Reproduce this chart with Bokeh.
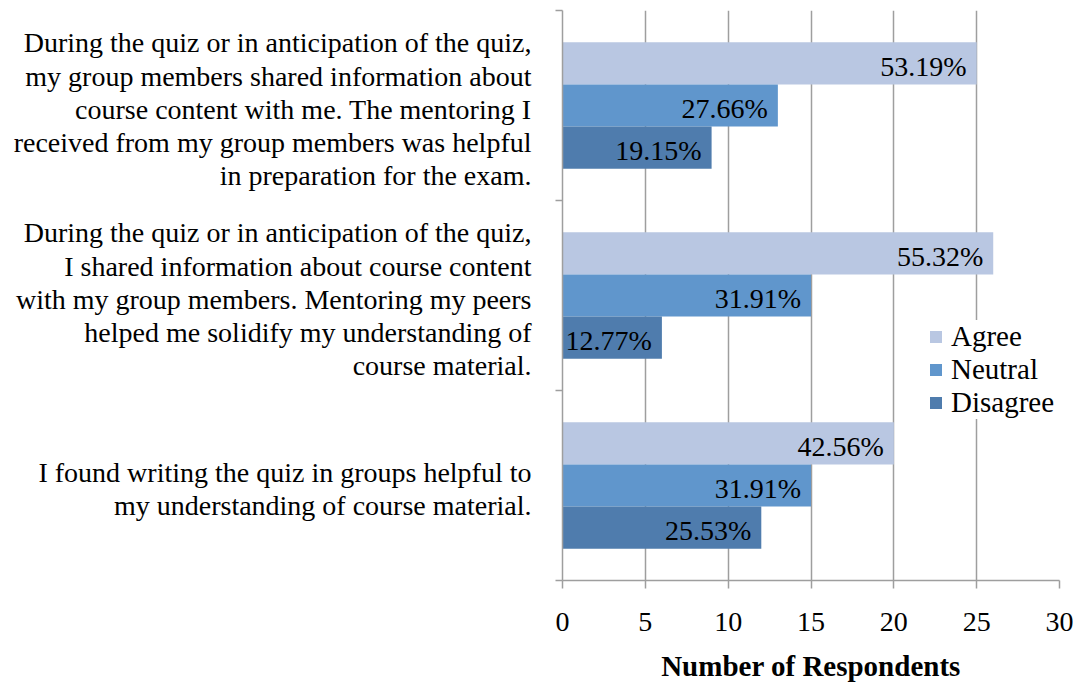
from bokeh.plotting import figure
from bokeh.models import Range1d, FixedTicker, Legend, LegendItem, ColumnDataSource
from bokeh.core.properties import value
from bokeh.embed import file_html
from bokeh.resources import INLINE

# ---- data ----
categories = [
    "During the quiz or in anticipation of the quiz,\nmy group members shared information about\ncourse content with me. The mentoring I\nreceived from my group members was helpful\nin preparation for the exam.",
    "During the quiz or in anticipation of the quiz,\nI shared information about course content\nwith my group members. Mentoring my peers\nhelped me solidify my understanding of\ncourse material.",
    "I found writing the quiz in groups helpful to\nmy understanding of course material.",
]
series_names = ["Agree", "Neutral", "Disagree"]
agree = [25, 26, 20]
neutral = [13, 15, 15]
disagree = [9, 6, 12]
agree_pct = ["53.19%", "55.32%", "42.56%"]
neutral_pct = ["27.66%", "31.91%", "31.91%"]
disagree_pct = ["19.15%", "12.77%", "25.53%"]
x_ticks = [0, 5, 10, 15, 20, 25, 30]

colors = ["#B9C7E2", "#6096CC", "#4F7CAD"]
FONT = "Liberation Serif"
GRID = "#9E9E9E"

p = figure(width=1073, height=684, output_backend="svg", toolbar_location=None,
           x_range=Range1d(0, 30), y_range=Range1d(3, 0),
           min_border_left=562, min_border_right=14, min_border_top=10, min_border_bottom=102)
p.outline_line_color = None
p.background_fill_color = "white"
p.border_fill_color = "white"

centers = [i + 0.5 for i in range(len(categories))]
bar_h = 0.222
offsets = [-0.222, 0.0, 0.222]
vals = [agree, neutral, disagree]
pcts = [agree_pct, neutral_pct, disagree_pct]

renderers = []
for k in range(3):
    ys = [c + offsets[k] for c in centers]
    src = ColumnDataSource(dict(y=ys, right=vals[k], lab=pcts[k]))
    r = p.hbar(y="y", right="right", left=0, height=bar_h, source=src,
               fill_color=colors[k], line_color=None)
    renderers.append(r)
    p.text(x="right", y="y", text="lab", source=src, text_align="right",
           text_baseline="middle", x_offset=-10, y_offset=3,
           text_font=value(FONT), text_font_size="28px", text_color="black")

# x axis
p.xaxis.ticker = FixedTicker(ticks=x_ticks)
p.xaxis.axis_label = "Number of Respondents"
p.xaxis.axis_label_text_font = FONT
p.xaxis.axis_label_text_font_style = "bold"
p.xaxis.axis_label_text_font_size = "29px"
p.xaxis.axis_label_text_color = "black"
p.xaxis.axis_label_standoff = 16
p.xaxis.major_label_text_font = FONT
p.xaxis.major_label_text_font_size = "28px"
p.xaxis.major_label_text_color = "black"
p.xaxis.major_label_standoff = 24
p.xaxis.major_tick_out = 8
p.xaxis.major_tick_in = 0
p.xaxis.minor_tick_line_color = None
p.xaxis.axis_line_color = GRID
p.xaxis.axis_line_width = 1.5
p.xaxis.major_tick_line_color = GRID
p.xaxis.major_tick_line_width = 1.5

# y axis: category labels near band centres, boundary ticks as minor ticks
label_pos = [c + 0.02 for c in centers]
p.yaxis.ticker = FixedTicker(ticks=label_pos, minor_ticks=[0, 1, 2, 3])
p.yaxis.major_label_overrides = {c: t for c, t in zip(label_pos, categories)}
p.yaxis.major_label_text_font = FONT
p.yaxis.major_label_text_font_size = "28px"
p.yaxis.major_label_text_line_height = 1.07
p.yaxis.major_label_text_color = "black"
p.yaxis.major_label_text_align = "right"
p.yaxis.major_label_standoff = 24
p.yaxis.major_tick_out = 0
p.yaxis.major_tick_in = 0
p.yaxis.major_tick_line_color = None
p.yaxis.minor_tick_out = 7
p.yaxis.minor_tick_in = 0
p.yaxis.minor_tick_line_color = GRID
p.yaxis.minor_tick_line_width = 1.5
p.yaxis.axis_line_color = GRID
p.yaxis.axis_line_width = 1.5

p.xgrid.ticker = FixedTicker(ticks=x_ticks[1:])
p.xgrid.grid_line_color = GRID
p.xgrid.grid_line_width = 1.5
p.ygrid.grid_line_color = None

legend = Legend(items=[LegendItem(label=series_names[k], renderers=[renderers[k]]) for k in range(3)],
                location=(366, 161))
legend.label_text_font = FONT
legend.label_text_font_size = "29px"
legend.label_text_color = "black"
legend.glyph_width = 15
legend.glyph_height = 15
legend.label_standoff = 8
legend.spacing = 0
legend.padding = 4
legend.margin = 0
legend.border_line_color = None
legend.background_fill_color = "white"
legend.background_fill_alpha = 1.0
p.add_layout(legend)

open("out.html", "w").write(file_html(p, INLINE))
